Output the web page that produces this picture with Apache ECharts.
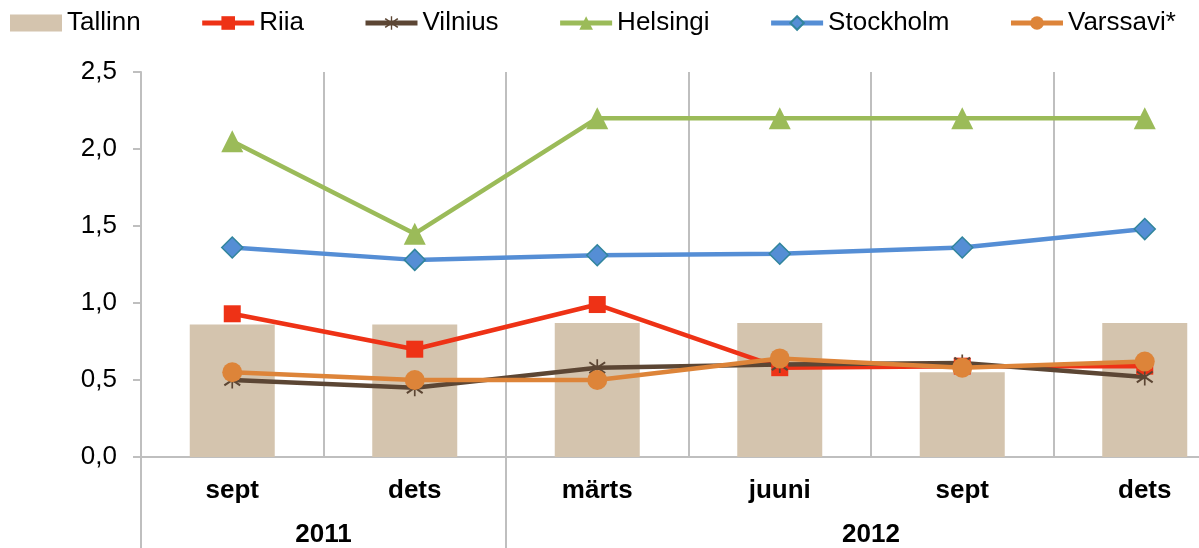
<!DOCTYPE html>
<html>
<head>
<meta charset="utf-8">
<script src="https://cdn.jsdelivr.net/npm/echarts@6/dist/echarts.min.js"></script>
<style>
  html, body { margin: 0; padding: 0; background: #fff; }
  #chart { width: 1199px; height: 548px; }
</style>
</head>
<body>
<div id="chart"></div>
<script>
// data
const months = ['sept', 'dets', 'märts', 'juuni', 'sept', 'dets']
const years = ['2011', '2012']
const monthsPerYear = [2, 4]

const tallinn = [0.86, 0.86, 0.87, 0.87, 0.55, 0.87]
const riia = [0.93, 0.70, 0.99, 0.58, 0.59, 0.59]
const vilnius = [0.50, 0.45, 0.58, 0.60, 0.61, 0.52]
const helsingi = [2.05, 1.45, 2.2, 2.2, 2.2, 2.2]
const stockholm = [1.36, 1.28, 1.31, 1.32, 1.36, 1.48]
const varssavi = [0.55, 0.50, 0.50, 0.64, 0.58, 0.62]

const yMin = 0
const yMax = 2.5
const yStep = 0.5

const FONT = "'Liberation Sans', Arial, sans-serif"
const GRID_COLOR = '#BFBFBF'

// year group positions on a 0..months.length value axis
const yearBounds = [0]
const yearCenters = []
monthsPerYear.forEach((n, i) => {
  yearCenters.push(yearBounds[i] + n / 2)
  yearBounds.push(yearBounds[i] + n)
})

const starPath = 'path://M9 0 L11 0 L11 20 L9 20 Z M0 4.6 L1.4 2.6 L20 15.4 L18.6 17.4 Z M18.6 2.6 L20 4.6 L1.4 17.4 L0 15.4 Z'

function lineSeries(name, data, color, symbol, size, extra) {
  return Object.assign({
    name,
    type: 'line',
    data,
    symbol,
    symbolSize: size,
    lineStyle: { color, width: 4.5 },
    itemStyle: { color },
    z: 3
  }, extra || {})
}

const chart = echarts.init(document.getElementById('chart'))

chart.setOption({
  animation: false,
  backgroundColor: '#fff',
  textStyle: { fontFamily: FONT },
  legend: {
    left: 5,
    top: 5,
    itemWidth: 52,
    itemHeight: 17,
    itemGap: 59,
    lineStyle: { width: 5 },
    textStyle: { fontSize: 26, color: '#000', fontFamily: FONT },
    data: [
      { name: 'Tallinn', icon: 'rect' },
      'Riia', 'Vilnius', 'Helsingi', 'Stockholm', 'Varssavi*'
    ]
  },
  grid: { left: 141, top: 72, width: 1095, height: 385, outerBoundsMode: 'none' },
  xAxis: [
    {
      type: 'category',
      data: months,
      boundaryGap: true,
      axisLine: { lineStyle: { color: GRID_COLOR, width: 2 } },
      axisTick: { show: false },
      axisLabel: {
        color: '#000',
        fontSize: 26,
        fontWeight: 'bold',
        fontFamily: FONT,
        margin: 21,
        interval: 0
      },
      splitLine: { show: true, lineStyle: { color: GRID_COLOR, width: 2 } }
    },
    {
      type: 'value',
      position: 'bottom',
      min: 0,
      max: months.length,
      axisLine: { show: false },
      splitLine: { show: false },
      axisTick: {
        show: true,
        length: 92,
        customValues: yearBounds,
        lineStyle: { color: GRID_COLOR, width: 2 }
      },
      axisLabel: {
        color: '#000',
        fontSize: 26,
        fontWeight: 'bold',
        fontFamily: FONT,
        margin: 65,
        customValues: yearCenters,
        formatter: v => years[yearCenters.indexOf(v)] || ''
      }
    }
  ],
  yAxis: {
    type: 'value',
    min: yMin,
    max: yMax,
    interval: yStep,
    axisLine: { show: true, lineStyle: { color: GRID_COLOR, width: 2 } },
    axisTick: { show: true, length: 8, lineStyle: { color: GRID_COLOR, width: 2 } },
    axisLabel: {
      color: '#000',
      fontSize: 26,
      fontFamily: FONT,
      margin: 24,
      formatter: v => v.toFixed(1).replace('.', ',')
    },
    splitLine: { show: false }
  },
  series: [
    {
      name: 'Tallinn',
      type: 'bar',
      data: tallinn,
      barWidth: 85,
      itemStyle: { color: '#D4C4AE' },
      z: 2
    },
    lineSeries('Riia', riia, '#EE3216', 'rect', 17),
    lineSeries('Vilnius', vilnius, '#5C4634', starPath, 17),
    lineSeries('Helsingi', helsingi, '#9BBB59', 'triangle', 22),
    lineSeries('Stockholm', stockholm, '#558ED5', 'diamond', 21, {
      itemStyle: { color: '#558ED5', borderColor: '#31859C', borderWidth: 1.5 }
    }),
    lineSeries('Varssavi*', varssavi, '#DD8439', 'circle', 20)
  ]
})
</script>
</body>
</html>
